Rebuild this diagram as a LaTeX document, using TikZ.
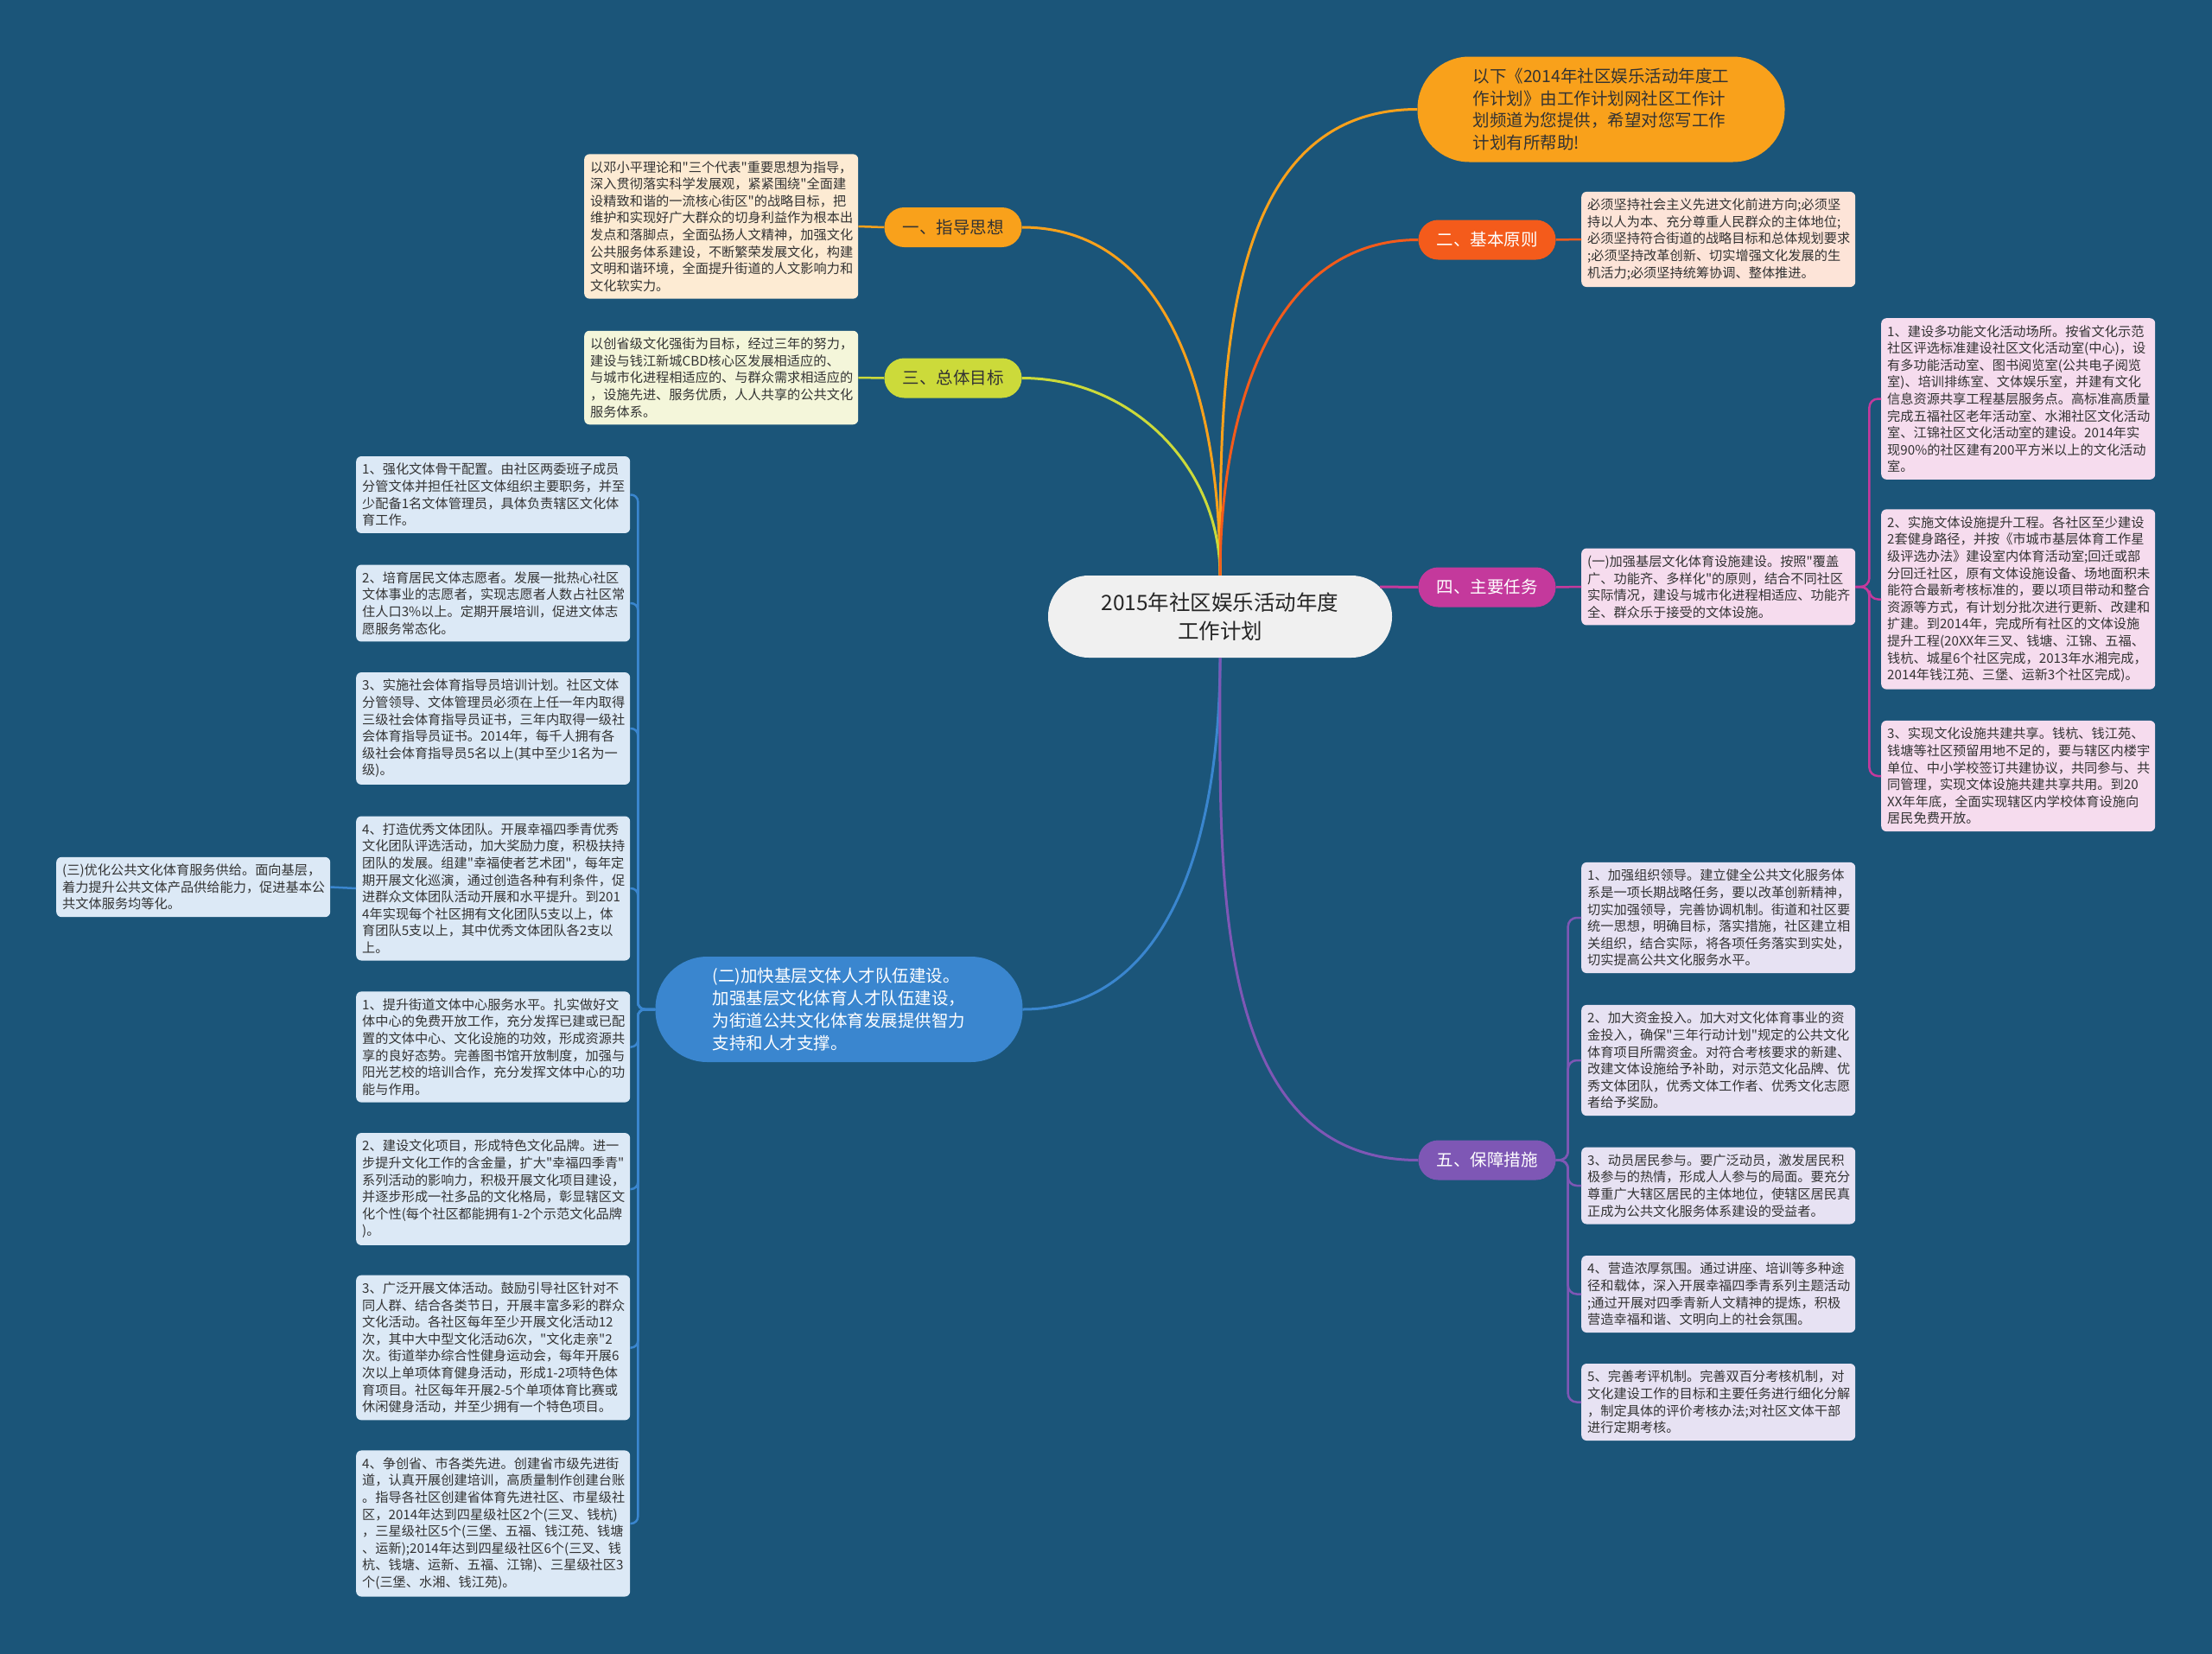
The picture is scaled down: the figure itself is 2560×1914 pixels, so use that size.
\documentclass[tikz,border=0pt]{standalone}
\usepackage{fontspec}
\newfontfamily\zhfont{Noto Sans CJK SC}

\definecolor{bg}{HTML}{1B5579}
\definecolor{txt}{HTML}{333333}
\definecolor{core}{HTML}{F0F0F0}
\definecolor{orangeN}{HTML}{F9A11B}
\definecolor{orangeB}{HTML}{FDEBD3}
\definecolor{limeN}{HTML}{CCDA3A}
\definecolor{limeB}{HTML}{F4F6DA}
\definecolor{redN}{HTML}{F45B1B}
\definecolor{redB}{HTML}{FDE4D8}
\definecolor{pinkN}{HTML}{C4399C}
\definecolor{pinkB}{HTML}{F6DCEE}
\definecolor{purpleN}{HTML}{7E57B5}
\definecolor{purpleB}{HTML}{E7E2F3}
\definecolor{blueN}{HTML}{3A86CF}
\definecolor{blueB}{HTML}{DCE9F6}

\begin{document}
\begin{tikzpicture}[x=1pt,y=-1pt,
  small/.style={rectangle,rounded corners=6pt,text width=303pt,inner xsep=7pt,inner ysep=8pt,
    align=left,text=txt,font=\zhfont\fontsize{15.2}{19.6}\selectfont},
  pill/.style={rectangle,rounded corners=23pt,minimum width=159pt,minimum height=46pt,
    font=\zhfont\fontsize{19.5}{24}\selectfont},
  bubble/.style={rectangle,rounded corners=60pt,minimum width=425pt,minimum height=122pt,
    align=left,font=\zhfont\fontsize{19.5}{25.8}\selectfont},
  link/.style={line width=3pt},
  sub/.style={line width=2.5pt}]

\fill[bg] (0,0) rectangle (2560,1914);

% centre
\node[rectangle,rounded corners=47pt,fill=core,minimum width=398pt,minimum height=95pt,
  align=center,text=black!85,font=\zhfont\fontsize{24.5}{33}\selectfont] (center) at (1412,713.5)
  {2015年社区娱乐活动年度\\工作计划};

% branches
\node[bubble,fill=orangeN,text=txt] (tip) at (1853,126.5)
  {以下《2014年社区娱乐活动年度工\\作计划》由工作计划网社区工作计\\划频道为您提供，希望对您写工作\\计划有所帮助!};
\node[pill,fill=orangeN,text=txt] (n1) at (1103,263) {一、指导思想};
\node[pill,fill=limeN,text=txt] (n3) at (1103,437.5) {三、总体目标};
\node[pill,fill=redN,text=white] (n2) at (1721,277.5) {二、基本原则};
\node[pill,fill=pinkN,text=white] (n4) at (1721,679.5) {四、主要任务};
\node[pill,fill=purpleN,text=white] (n5) at (1721,1342.5) {五、保障措施};
\node[bubble,fill=blueN,text=white] (talent) at (971,1168)
  {(二)加快基层文体人才队伍建设。\\加强基层文化体育人才队伍建设，\\为街道公共文化体育发展提供智力\\支持和人才支撑。};

% left top
\node[small,fill=orangeB,anchor=west] (box1) at (676,262)
  {以邓小平理论和"三个代表"重要思想为指导，\\深入贯彻落实科学发展观，紧紧围绕"全面建\\设精致和谐的一流核心街区"的战略目标，把\\维护和实现好广大群众的切身利益作为根本出\\发点和落脚点，全面弘扬人文精神，加强文化\\公共服务体系建设，不断繁荣发展文化，构建\\文明和谐环境，全面提升街道的人文影响力和\\文化软实力。};
\node[small,fill=limeB,anchor=west] (box3) at (676,437)
  {以创省级文化强街为目标，经过三年的努力，\\建设与钱江新城CBD核心区发展相适应的、\\与城市化进程相适应的、与群众需求相适应的\\，设施先进、服务优质，人人共享的公共文化\\服务体系。};

% right top
\node[small,fill=redB,anchor=west] (pbox) at (1830,277)
  {必须坚持社会主义先进文化前进方向;必须坚\\持以人为本、充分尊重人民群众的主体地位;\\必须坚持符合街道的战略目标和总体规划要求\\;必须坚持改革创新、切实增强文化发展的生\\机活力;必须坚持统筹协调、整体推进。};
\node[small,fill=pinkB,anchor=west] (tbox) at (1830,679)
  {(一)加强基层文化体育设施建设。按照"覆盖\\广、功能齐、多样化"的原则，结合不同社区\\实际情况，建设与城市化进程相适应、功能齐\\全、群众乐于接受的文体设施。};
\node[small,fill=pinkB,anchor=west] (r1) at (2177,461.5)
  {1、建设多功能文化活动场所。按省文化示范\\社区评选标准建设社区文化活动室(中心)，设\\有多功能活动室、图书阅览室(公共电子阅览\\室)、培训排练室、文体娱乐室，并建有文化\\信息资源共享工程基层服务点。高标准高质量\\完成五福社区老年活动室、水湘社区文化活动\\室、江锦社区文化活动室的建设。2014年实\\现90\%的社区建有200平方米以上的文化活动\\室。};
\node[small,fill=pinkB,anchor=west] (r2) at (2177,693.5)
  {2、实施文体设施提升工程。各社区至少建设\\2套健身路径，并按《市城市基层体育工作星\\级评选办法》建设室内体育活动室;回迁或部\\分回迁社区，原有文体设施设备、场地面积未\\能符合最新考核标准的，要以项目带动和整合\\资源等方式，有计划分批次进行更新、改建和\\扩建。到2014年，完成所有社区的文体设施\\提升工程(20XX年三叉、钱塘、江锦、五福、\\钱杭、城星6个社区完成，2013年水湘完成，\\2014年钱江苑、三堡、运新3个社区完成)。};
\node[small,fill=pinkB,anchor=west] (r3) at (2177,898)
  {3、实现文化设施共建共享。钱杭、钱江苑、\\钱塘等社区预留用地不足的，要与辖区内楼宇\\单位、中小学校签订共建协议，共同参与、共\\同管理，实现文体设施共建共享共用。到20\\XX年年底，全面实现辖区内学校体育设施向\\居民免费开放。};

% right bottom
\node[small,fill=purpleB,anchor=west] (s1) at (1830,1062)
  {1、加强组织领导。建立健全公共文化服务体\\系是一项长期战略任务，要以改革创新精神，\\切实加强领导，完善协调机制。街道和社区要\\统一思想，明确目标，落实措施，社区建立相\\关组织，结合实际，将各项任务落实到实处，\\切实提高公共文化服务水平。};
\node[small,fill=purpleB,anchor=west] (s2) at (1830,1227)
  {2、加大资金投入。加大对文化体育事业的资\\金投入，确保"三年行动计划"规定的公共文化\\体育项目所需资金。对符合考核要求的新建、\\改建文体设施给予补助，对示范文化品牌、优\\秀文体团队，优秀文体工作者、优秀文化志愿\\者给予奖励。};
\node[small,fill=purpleB,anchor=west] (s3) at (1830,1372)
  {3、动员居民参与。要广泛动员，激发居民积\\极参与的热情，形成人人参与的局面。要充分\\尊重广大辖区居民的主体地位，使辖区居民真\\正成为公共文化服务体系建设的受益者。};
\node[small,fill=purpleB,anchor=west] (s4) at (1830,1497.5)
  {4、营造浓厚氛围。通过讲座、培训等多种途\\径和载体，深入开展幸福四季青系列主题活动\\;通过开展对四季青新人文精神的提炼，积极\\营造幸福和谐、文明向上的社会氛围。};
\node[small,fill=purpleB,anchor=west] (s5) at (1830,1622.5)
  {5、完善考评机制。完善双百分考核机制，对\\文化建设工作的目标和主要任务进行细化分解\\，制定具体的评价考核办法;对社区文体干部\\进行定期考核。};

% left column
\node[small,fill=blueB,anchor=west] (l1) at (412,572.5)
  {1、强化文体骨干配置。由社区两委班子成员\\分管文体并担任社区文体组织主要职务，并至\\少配备1名文体管理员，具体负责辖区文化体\\育工作。};
\node[small,fill=blueB,anchor=west] (l2) at (412,698)
  {2、培育居民文体志愿者。发展一批热心社区\\文体事业的志愿者，实现志愿者人数占社区常\\住人口3\%以上。定期开展培训，促进文体志\\愿服务常态化。};
\node[small,fill=blueB,anchor=west] (l3) at (412,843)
  {3、实施社会体育指导员培训计划。社区文体\\分管领导、文体管理员必须在上任一年内取得\\三级社会体育指导员证书，三年内取得一级社\\会体育指导员证书。2014年，每千人拥有各\\级社会体育指导员5名以上(其中至少1名为一\\级)。};
\node[small,fill=blueB,anchor=west] (l4) at (412,1028)
  {4、打造优秀文体团队。开展幸福四季青优秀\\文化团队评选活动，加大奖励力度，积极扶持\\团队的发展。组建"幸福使者艺术团"，每年定\\期开展文化巡演，通过创造各种有利条件，促\\进群众文体团队活动开展和水平提升。到201\\4年实现每个社区拥有文化团队5支以上，体\\育团队5支以上，其中优秀文体团队各2支以\\上。};
\node[small,fill=blueB,anchor=west] (l5) at (412,1211.5)
  {1、提升街道文体中心服务水平。扎实做好文\\体中心的免费开放工作，充分发挥已建或已配\\置的文体中心、文化设施的功效，形成资源共\\享的良好态势。完善图书馆开放制度，加强与\\阳光艺校的培训合作，充分发挥文体中心的功\\能与作用。};
\node[small,fill=blueB,anchor=west] (l6) at (412,1376)
  {2、建设文化项目，形成特色文化品牌。进一\\步提升文化工作的含金量，扩大"幸福四季青"\\系列活动的影响力，积极开展文化项目建设，\\并逐步形成一社多品的文化格局，彰显辖区文\\化个性(每个社区都能拥有1-2个示范文化品牌\\)。};
\node[small,fill=blueB,anchor=west] (l7) at (412,1559.5)
  {3、广泛开展文体活动。鼓励引导社区针对不\\同人群、结合各类节日，开展丰富多彩的群众\\文化活动。各社区每年至少开展文化活动12\\次，其中大中型文化活动6次，"文化走亲"2\\次。街道举办综合性健身运动会，每年开展6\\次以上单项体育健身活动，形成1-2项特色体\\育项目。社区每年开展2-5个单项体育比赛或\\休闲健身活动，并至少拥有一个特色项目。};
\node[small,fill=blueB,anchor=west] (l8) at (412,1763)
  {4、争创省、市各类先进。创建省市级先进街\\道，认真开展创建培训，高质量制作创建台账\\。指导各社区创建省体育先进社区、市星级社\\区，2014年达到四星级社区2个(三叉、钱杭)\\，三星级社区5个(三堡、五福、钱江苑、钱塘\\、运新);2014年达到四星级社区6个(三叉、钱\\杭、钱塘、运新、五福、江锦)、三星级社区3\\个(三堡、水湘、钱江苑)。};
\node[small,fill=blueB,anchor=west] (far) at (65,1026.5)
  {(三)优化公共文化体育服务供给。面向基层，\\着力提升公共文体产品供给能力，促进基本公\\共文体服务均等化。};

% main links
\coordinate (c4) at (1597,679);
\draw[link,orangeN] (center.north) to[out=90,in=180] (tip.west);
\draw[link,orangeN] (center.north) to[out=90,in=0] (n1.east);
\draw[link,limeN] (center.north) to[out=90,in=0] (n3.east);
\draw[link,redN] (center.north) to[out=90,in=180] (n2.west);
\draw[link,pinkN] (c4) -- (n4.west);
\draw[link,blueN] (center.south) to[out=-90,in=0] (talent.east);
\draw[link,purpleN] (center.south) to[out=-90,in=180] (n5.west);

% sub links
\draw[sub,orangeN] (n1.west) -- (box1.east);
\draw[sub,limeN] (n3.west) -- (box3.east);
\draw[sub,redN] (n2.east) -- (pbox.west);
\draw[sub,pinkN] (n4.east) -- (tbox.west);
\foreach \r in {r1,r2,r3}
  \draw[sub,pinkN,rounded corners=10pt] (tbox.east) -- ++(16,0) |- (\r.west);
\foreach \s in {s1,s2,s3,s4,s5}
  \draw[sub,purpleN,rounded corners=10pt] (n5.east) -- ++(14,0) |- (\s.west);
\foreach \l in {l1,l2,l3,l4,l5,l6,l7,l8}
  \draw[sub,blueN,rounded corners=8pt] (talent.west) -- ++(-20,0) |- (\l.east);
\draw[sub,blueN] (l4.west) -- (far.east);
\end{tikzpicture}
\end{document}
